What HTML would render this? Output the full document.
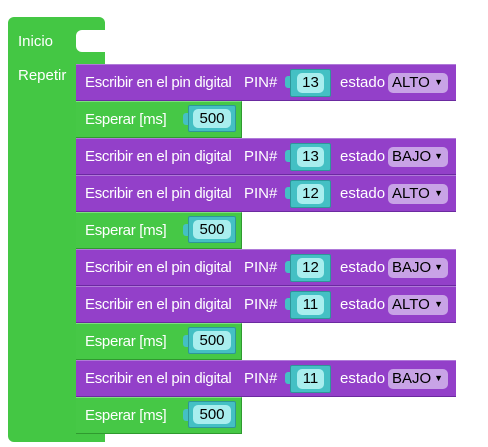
<!DOCTYPE html>
<html><head><style>
body{margin:0;background:#fff;width:488px;height:447px;position:relative;overflow:hidden;font-family:"Liberation Sans",Arial,sans-serif;}
div{position:absolute;box-sizing:border-box;}
.g{background:#44c744;}
.p{background:#9340c9;border-top:1px solid #b07ad9;border-bottom:1px solid #6b2aa0;}
.e{background:#46c846;border-top:1px solid #7fe07f;border-bottom:1px solid #2f9a2f;border-right:1px solid #2f9a2f;}
.t{color:#fff;font-size:15px;line-height:16px;white-space:nowrap;}
.tb{background:#44c0c4;border:1px solid #2e9699;border-radius:2px;}
.in{background:#a8eeee;border-radius:5px;color:#000;font-size:15px;line-height:19px;text-align:center;}
.tab{background:#44c0c4;width:6px;height:12px;border-radius:3px 0 0 3px;}
.dd{background:#c8a3e6;border-radius:5px;color:#000;font-size:15px;line-height:19px;padding-left:4px;}
</style></head><body>
<div class="g" style="left:8px;top:17px;width:97px;height:47px;border-radius:6px 6px 0 0;"></div>
<div style="left:76px;top:30px;width:30px;height:22px;background:#fff;border-radius:6px 0 0 6px;"></div>
<div class="g" style="left:8px;top:63px;width:68px;height:370px;"></div>
<div class="g" style="left:8px;top:430px;width:97px;height:12px;border-radius:0 0 0 6px;"></div>
<div class="t" style="left:18px;top:34px;">Inicio</div>
<div class="t" style="left:18px;top:68px;">Repetir</div>

<div id="rows"></div>
<script>
var rows=[['p','13','ALTO'],['e'],['p','13','BAJO'],['p','12','ALTO'],['e'],['p','12','BAJO'],['p','11','ALTO'],['e'],['p','11','BAJO'],['e']];
var h='';var y=64;
rows.forEach(function(r){
 if(r[0]=='p'){
  h+='<div class="p" style="left:76px;top:'+y+'px;width:380px;height:37px;"></div>';
  h+='<div class="t" style="left:85px;top:'+(y+11)+'px;letter-spacing:-0.3px;">Escribir en el pin digital</div>';
  h+='<div class="t" style="left:244px;top:'+(y+11)+'px;">PIN#</div>';
  h+='<div class="tab" style="left:285px;top:'+(y+12)+'px;"></div>';
  h+='<div class="tb" style="left:290px;top:'+(y+5)+'px;width:41px;height:28px;"></div>';
  h+='<div class="in" style="left:297px;top:'+(y+9)+'px;width:27px;height:20px;">'+r[1]+'</div>';
  h+='<div class="t" style="left:340px;top:'+(y+11)+'px;">estado</div>';
  h+='<div class="dd" style="left:388px;top:'+(y+9)+'px;width:60px;height:20px;">'+r[2]+'<span style="font-size:9px;position:absolute;right:5px;top:0">&#9660;</span></div>';
 }else{
  h+='<div class="e" style="left:76px;top:'+y+'px;width:166px;height:37px;"></div>';
  h+='<div class="t" style="left:85px;top:'+(y+11)+'px;letter-spacing:-0.3px;">Esperar [ms]</div>';
  h+='<div class="tab" style="left:183px;top:'+(y+12)+'px;"></div>';
  h+='<div class="tb" style="left:188px;top:'+(y+4)+'px;width:48px;height:27px;"></div>';
  h+='<div class="in" style="left:193px;top:'+(y+8)+'px;width:38px;height:19px;">500</div>';
 }
 y+=37;
});
document.getElementById('rows').outerHTML=h;
</script>
</body></html>
